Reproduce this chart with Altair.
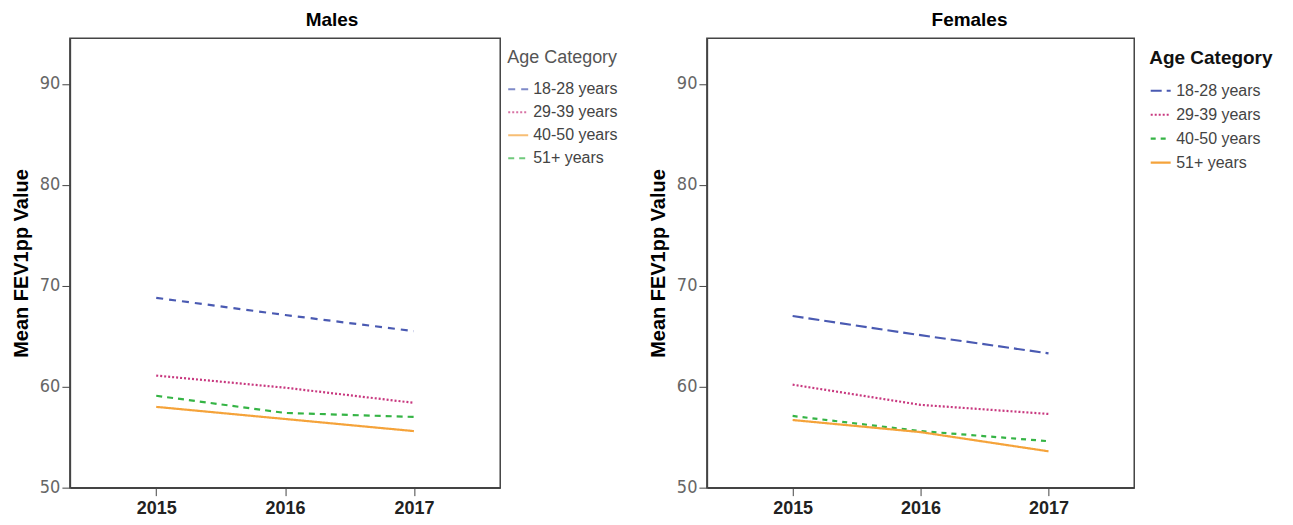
import altair as alt
import pandas as pd

years = [2015, 2016, 2017]
age_categories = ["18-28 years", "29-39 years", "40-50 years", "51+ years"]

males_18_28 = [68.8, 67.1, 65.5]
males_29_39 = [61.1, 59.9, 58.4]
males_40_50 = [58.0, 56.8, 55.6]
males_51_plus = [59.1, 57.4, 57.0]

females_18_28 = [67.0, 65.1, 63.3]
females_29_39 = [60.2, 58.2, 57.3]
females_40_50 = [57.1, 55.6, 54.6]
females_51_plus = [56.7, 55.5, 53.6]

y_ticks = [50, 60, 70, 80, 90]

BLUE = "#4a5ab2"
PINK = "#c8387f"
GREEN = "#35b445"
ORANGE = "#f5a33a"

NARROW = "Liberation Sans Narrow, DejaVu Sans Condensed, Liberation Sans, sans-serif"


def frame(series):
    rows = []
    for cat, vals in zip(age_categories, series):
        for yr, v in zip(years, vals):
            rows.append({"Year": yr, "Age Category": cat, "FEV1pp": v})
    return pd.DataFrame(rows)


def panel(title, title_dx, df, colors, dashes, legend, width):
    return (
        alt.Chart(df)
        .mark_line(strokeWidth=2.2, clip=True)
        .encode(
            x=alt.X(
                "Year:Q",
                scale=alt.Scale(domain=[2014.33, 2017.67], nice=False, zero=False),
                axis=alt.Axis(
                    values=years, format="d", title=None, grid=False,
                    tickSize=8, labelPadding=4, labelFontSize=18,
                    labelFontWeight="bold", labelColor="#222",
                    labelFont="Liberation Sans",
                    domainColor="#444", tickColor="#444", domainWidth=1.5,
                ),
            ),
            y=alt.Y(
                "FEV1pp:Q",
                scale=alt.Scale(domain=[50, 94.5], nice=False, zero=False),
                axis=alt.Axis(
                    values=y_ticks, grid=False, tickSize=8, labelPadding=2,
                    labelFont=NARROW, labelFontSize=18, labelColor="#666",
                    title="Mean FEV1pp Value", titleFontSize=20,
                    titleFontWeight="bold", titleColor="#000",
                    titleFont="Liberation Sans", titlePadding=8,
                    domainColor="#444", tickColor="#444", domainWidth=1.5,
                ),
            ),
            color=alt.Color(
                "Age Category:N",
                scale=alt.Scale(domain=age_categories, range=colors),
                legend=legend,
            ),
            strokeDash=alt.StrokeDash(
                "Age Category:N",
                scale=alt.Scale(domain=age_categories, range=dashes),
                legend=legend,
            ),
            detail="Age Category:N",
        )
        .properties(
            width=width,
            height=450,
            title=alt.TitleParams(
                title, fontSize=19, fontWeight="bold", color="#000",
                font="Liberation Sans", anchor="middle", offset=8, dx=title_dx,
            ),
        )
    )


males_legend = alt.Legend(
    title="Age Category", titleFontSize=18, titleFontWeight="normal",
    titleColor="#555", titleFont="Liberation Sans", titlePadding=11,
    labelFontSize=16, labelColor="#444", labelFont="Liberation Sans",
    symbolType="stroke", symbolSize=400, symbolStrokeWidth=2,
    symbolOpacity=0.7, rowPadding=4, labelOffset=4, offset=-4, padding=11,
    orient="right",
)

females_legend = alt.Legend(
    title="Age Category", titleFontSize=19, titleFontWeight="bold",
    titleColor="#111", titleFont="Liberation Sans", titlePadding=11,
    labelFontSize=16, labelColor="#444", labelFont="Liberation Sans",
    symbolType="stroke", symbolSize=400, symbolStrokeWidth=2.2,
    rowPadding=4, labelOffset=4, offset=4, padding=11, orient="right",
)

males = panel(
    "Males", 47,
    frame([males_18_28, males_29_39, males_40_50, males_51_plus]),
    [BLUE, PINK, ORANGE, GREEN],
    [[7, 6], [2, 2], [1, 0], [6, 5]],
    males_legend,
    431,
)

females = panel(
    "Females", 49,
    frame([females_18_28, females_29_39, females_40_50, females_51_plus]),
    [BLUE, PINK, GREEN, ORANGE],
    [[11, 5], [2, 2], [5, 5], [1, 0]],
    females_legend,
    428,
)

chart = (
    alt.hconcat(males, females, spacing=17)
    .resolve_scale(color="independent", strokeDash="independent")
    .resolve_legend(color="independent", strokeDash="independent")
    .configure_view(stroke="#444", strokeWidth=1.5)
    .properties(padding={"left": 2, "top": 2, "right": 0, "bottom": 0}, background="white")
)

chart.save("out.html", embed_options={"renderer": "svg", "actions": False})
